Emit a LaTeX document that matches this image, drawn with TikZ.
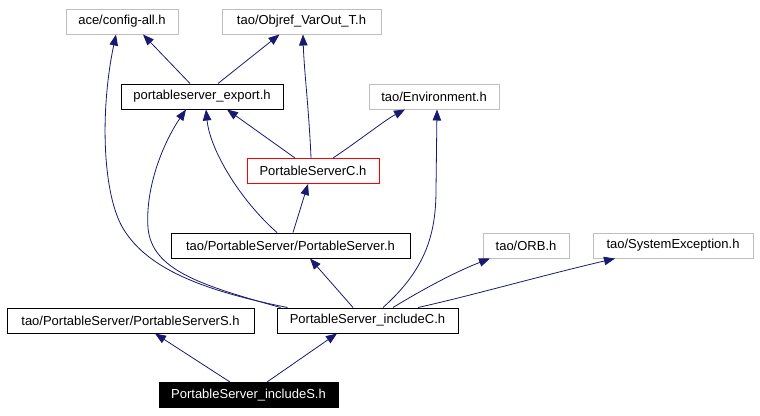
\documentclass[tikz,border=0pt]{standalone}
\usepackage{fontspec}
\setmainfont{Liberation Sans}
\usetikzlibrary{arrows.meta}
\definecolor{edgeblue}{HTML}{191970}
\definecolor{boxgray}{HTML}{BFBFBF}

\begin{document}
\begin{tikzpicture}[x=1pt,y=-1pt,
    box/.style={draw=black,line width=1pt,minimum height=25pt,inner sep=0pt,
                font=\fontsize{13pt}{15pt}\selectfont},
    graybox/.style={box,draw=boxgray},
    redbox/.style={box,draw=red},
    darkbox/.style={box,fill=black,text=white},
    dep/.style={draw=edgeblue,line width=0.8pt,
                -{Triangle[length=11pt,width=8.5pt,fill=edgeblue]}}]

                \useasboundingbox (0,0) rectangle (760,415);

                \node[graybox,minimum width=112pt] (cfg)    at (122,21.5)  {ace/config-all.h};
                \node[graybox,minimum width=159pt] (objref) at (301.5,21.5) {tao/Objref\_VarOut\_T.h};
                \node[box,minimum width=162pt]     (export) at (202,96.5)  {portableserver\_export.h};
                \node[graybox,minimum width=130pt] (env)    at (434,96.5)  {tao/Environment.h};
                \node[redbox,minimum width=132pt]  (psc)    at (313,171)   {PortableServerC.h};
                \node[box,minimum width=239pt]     (ps)     at (290.5,245.5) {tao/PortableServer/PortableServer.h};
                \node[graybox,minimum width=86pt]  (orb)    at (526,245.5) {tao/ORB.h};
                \node[graybox,minimum width=160pt] (sysexc) at (673,245.5) {tao/SystemException.h};
                \node[box,minimum width=247pt]     (pss)    at (130.5,320.5) {tao/PortableServer/PortableServerS.h};
                \node[box,minimum width=181pt]     (incc)   at (367.5,320.5) {PortableServer\_includeC.h};
                \node[darkbox,minimum width=179pt] (incs)   at (248.5,395) {PortableServer\_includeS.h};

                % export and PortableServerC
                \draw[dep] ([xshift=-12pt]export.north) -- ([xshift=21pt]cfg.south);
                \draw[dep] ([xshift=16pt]export.north) -- ([xshift=-22pt]objref.south);
                \draw[dep] ([xshift=-18pt]psc.north) -- ([xshift=25pt]export.south);
                \draw[dep] ([xshift=-2pt]psc.north) .. controls (309,110) and (304,70) .. ([xshift=1.5pt]objref.south);
                \draw[dep] ([xshift=20pt]psc.north) .. controls (360,140) and (385,120) .. ([xshift=-29pt]env.south);

                % PortableServer.h
                \draw[dep] ([xshift=-13.5pt]ps.north) .. controls (240,200) and (210,150) .. ([xshift=4pt]export.south);
                \draw[dep] ([xshift=2.5pt]ps.north) -- ([xshift=-5pt]psc.south);

                % includeC
                \draw[dep] ([xshift=-14.5pt]incc.north) -- ([xshift=19.5pt]ps.south);
                \draw[dep] ([xshift=-87pt]incc.north) .. controls (200,285) and (152,270) .. (148,228)
                           .. controls (145,185) and (165,140) .. ([xshift=-16pt]export.south);
                \draw[dep] ([xshift=-80pt]incc.north) .. controls (200,290) and (148,268) .. (124,230)
                           .. controls (102,195) and (100,110) .. ([xshift=-6pt]cfg.south);
                \draw[dep] ([xshift=15.5pt]incc.north) .. controls (425,270) and (436,235) .. (436,190)
                           -- ([xshift=3pt]env.south);
                \draw[dep] ([xshift=25.5pt]incc.north) .. controls (430,285) and (460,270) .. ([xshift=-36pt]orb.south);
                \draw[dep] ([xshift=50.5pt]incc.north) .. controls (470,296) and (540,276) .. ([xshift=-58pt]sysexc.south);

                % includeS
                \draw[dep] ([xshift=-18.5pt]incs.north) -- ([xshift=24.5pt]pss.south);
                \draw[dep] ([xshift=18.5pt]incs.north) -- ([xshift=-30.5pt]incc.south);
            \end{tikzpicture}
\end{document}
